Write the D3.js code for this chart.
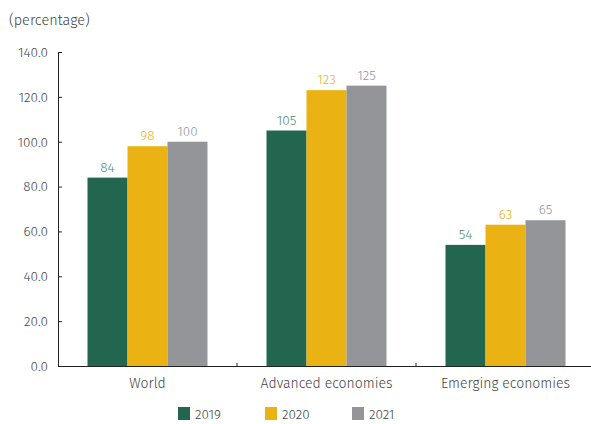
<!DOCTYPE html>
<html><head><meta charset="utf-8">
<script src="https://cdn.jsdelivr.net/npm/d3@7"></script>
<style>body{margin:0;background:#fff}svg{display:block;font-family:"Fira Sans","Noto Sans",sans-serif;font-weight:300}</style>
</head><body><svg id="c" width="591" height="424"></svg>
<script>
const categories = ["World", "Advanced economies", "Emerging economies"];
const seriesNames = ["2019", "2020", "2021"];
const values2019 = [84, 105, 54];
const values2020 = [98, 123, 63];
const values2021 = [100, 125, 65];
const yTicks = [0, 20, 40, 60, 80, 100, 120, 140];
const colors = ["#226650", "#EAB213", "#939598"];
const labelColors = ["#4E8A70", "#EAB213", "#939598"];

(function () {
const FONT = '"Fira Sans","Noto Sans",sans-serif';
const series = [values2019, values2020, values2021];
const svg = d3.select("#c");
const mLeft = 58, mTop = 52, mBottom = 366;
const bandW = 179;
const x = d3.scaleBand().domain(categories).range([mLeft, mLeft + bandW * 3]).paddingInner(0).paddingOuter(0);
const xs = d3.scaleBand().domain(seriesNames).range([0, 120]);
const y = d3.scaleLinear().domain([0, 140]).range([mBottom, mTop]);

categories.forEach((c, ci) => {
  const gx = x(c) + x.bandwidth() / 2 - 60;
  seriesNames.forEach((s, si) => {
    const v = series[si][ci];
    svg.append("rect").attr("x", gx + xs(s)).attr("width", xs.bandwidth())
      .attr("y", y(v)).attr("height", y(0) - y(v)).attr("fill", colors[si]);
    svg.append("text").attr("x", gx + xs(s) + xs.bandwidth() / 2).attr("y", y(v) - 6)
      .attr("text-anchor", "middle").attr("font-size", 13.5).attr("fill", labelColors[si]).text(v);
  });
});

const ya = svg.append("g").attr("transform", `translate(${mLeft},0)`)
  .call(d3.axisLeft(y).tickValues(yTicks).tickFormat(d3.format(".1f")).tickSizeInner(-4).tickSizeOuter(-4).tickPadding(10));
ya.selectAll("text").attr("font-size", 13.5).attr("fill", "#444").style("font-family", FONT).style("font-weight", 300);
ya.selectAll("line,path").attr("stroke", "#222");

const xa = svg.append("g").attr("transform", `translate(0,${mBottom})`)
  .call(d3.axisBottom(x).tickSize(0).tickPadding(12));
xa.select(".domain").attr("d", `M${mLeft},0.5H591`).attr("stroke", "#222");
xa.selectAll("text").attr("font-size", 14).attr("fill", "#444").style("font-family", FONT).style("font-weight", 300);
[1, 2].forEach(i => {
  svg.append("line").attr("x1", mLeft + bandW * i).attr("x2", mLeft + bandW * i)
    .attr("y1", mBottom - 3).attr("y2", mBottom).attr("stroke", "#222");
});

svg.append("text").attr("x", 9).attr("y", 25).attr("font-size", 14.5).attr("fill", "#444").text("(percentage)");

const legX = [178, 265, 352];
seriesNames.forEach((s, i) => {
  svg.append("rect").attr("x", legX[i]).attr("y", 407).attr("width", 12).attr("height", 13).attr("fill", colors[i]);
  svg.append("text").attr("x", legX[i] + 17).attr("y", 419).attr("font-size", 13.5).attr("fill", "#444").text(s);
});
})();
</script></body></html>
